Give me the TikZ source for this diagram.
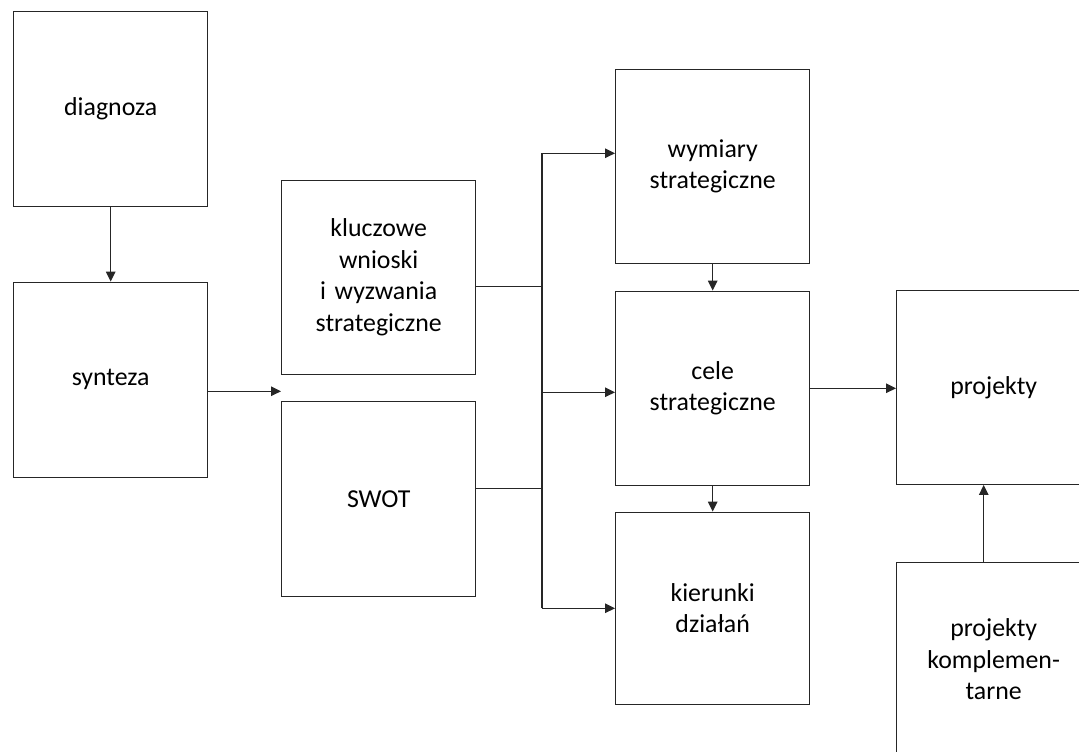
\documentclass[tikz,border=0pt]{standalone}
\usepackage{fontspec}
\setmainfont{Carlito}
\usetikzlibrary{arrows.meta}
\begin{document}
\begin{tikzpicture}[
  module/.style={draw=black!85,line width=0.8pt,fill=white,inner sep=0,minimum width=3.88cm,minimum height=3.88cm,
    text width=3.6cm,anchor=south west,text centered,font=\fontsize{14.7pt}{18pt}\selectfont},
  arr/.style={line width=0.8pt,draw=black!85},
  tip/.style={-{Triangle[length=2mm,width=1.9mm]}}
  ]
  \clip (0,0) rectangle (21.58,15.04);
  % 
  % Nodes
  % 
  \node(diag)  [module,minimum height=3.9cm]at (0.26cm,10.9 cm){diagnoza};
  \node(synt)  [module,minimum height=3.9cm]at (0.26cm,5.48cm){synteza};
  \node(klucz) [module]at (5.62cm,7.54cm){kluczowe\\wnioski\\i wyzwania\\strategiczne};
  \node(swot)  [module,minimum height=3.9cm]at (5.62cm,3.1 cm){SWOT};
  \node(wym)   [module]at (12.3cm,9.76cm){wymiary\\strategiczne};
  \node(cele)  [module]at (12.3cm,5.32cm){cele\\strategiczne};
  \node(kier)  [module,minimum height=3.84cm]at (12.3cm,0.94cm){kierunki\\działań};
  \node(proj)  [module]at (17.92cm,5.34cm){projekty};
  \node(kompl) [module]at (17.92cm,-0.1cm){projekty\\komplemen-\\tarne};
  % 
  % Points
  % 
  \coordinate(split) at (10.84cm,0);
  \coordinate(syout) at ([yshift=-0.23cm]synt.east);
  \coordinate(klout) at ([yshift=-0.18cm]klucz.east);
  \coordinate(swout) at ([yshift=0.21cm]swot.east);
  \coordinate(wymin) at ([yshift=0.26cm]wym.west);
  \coordinate(celin) at ([yshift=-0.08cm]cele.west);
  \coordinate(prin)  at ([xshift=-0.2cm]proj.south);
  % 
  % Arrows
  % 
  % diag -> synt
  \draw[arr,tip] (diag.south) -- (synt.north);
  % synt -> klucz/swot
  \draw[arr,tip] (syout) -- (syout -| klucz.west);
  % klucz, swot -> split
  \draw[arr] (klout) -- (klout -| split);
  \draw[arr] (swout) -- (swout -| split);
  % split -> wym
  \draw[arr,tip] (split |- kier.west) |- (wymin);
  % split -> cele
  \draw[arr,tip] (split |- celin) -- (celin);
  % split -> kier
  \draw[arr,tip] (split |- kier.west) -- (kier.west);
  % wym -> cele
  \draw[arr,tip] (wym.south) -- (cele.north);
  % cele -> kier
  \draw[arr,tip] (cele.south) -- (kier.north);
  % cele -> proj
  \draw[arr,tip] (cele.east) -- (cele.east -| proj.west);
  % kompl -> proj
  \draw[arr,tip] (prin |- kompl.north) -- (prin);
\end{tikzpicture}
\end{document}
